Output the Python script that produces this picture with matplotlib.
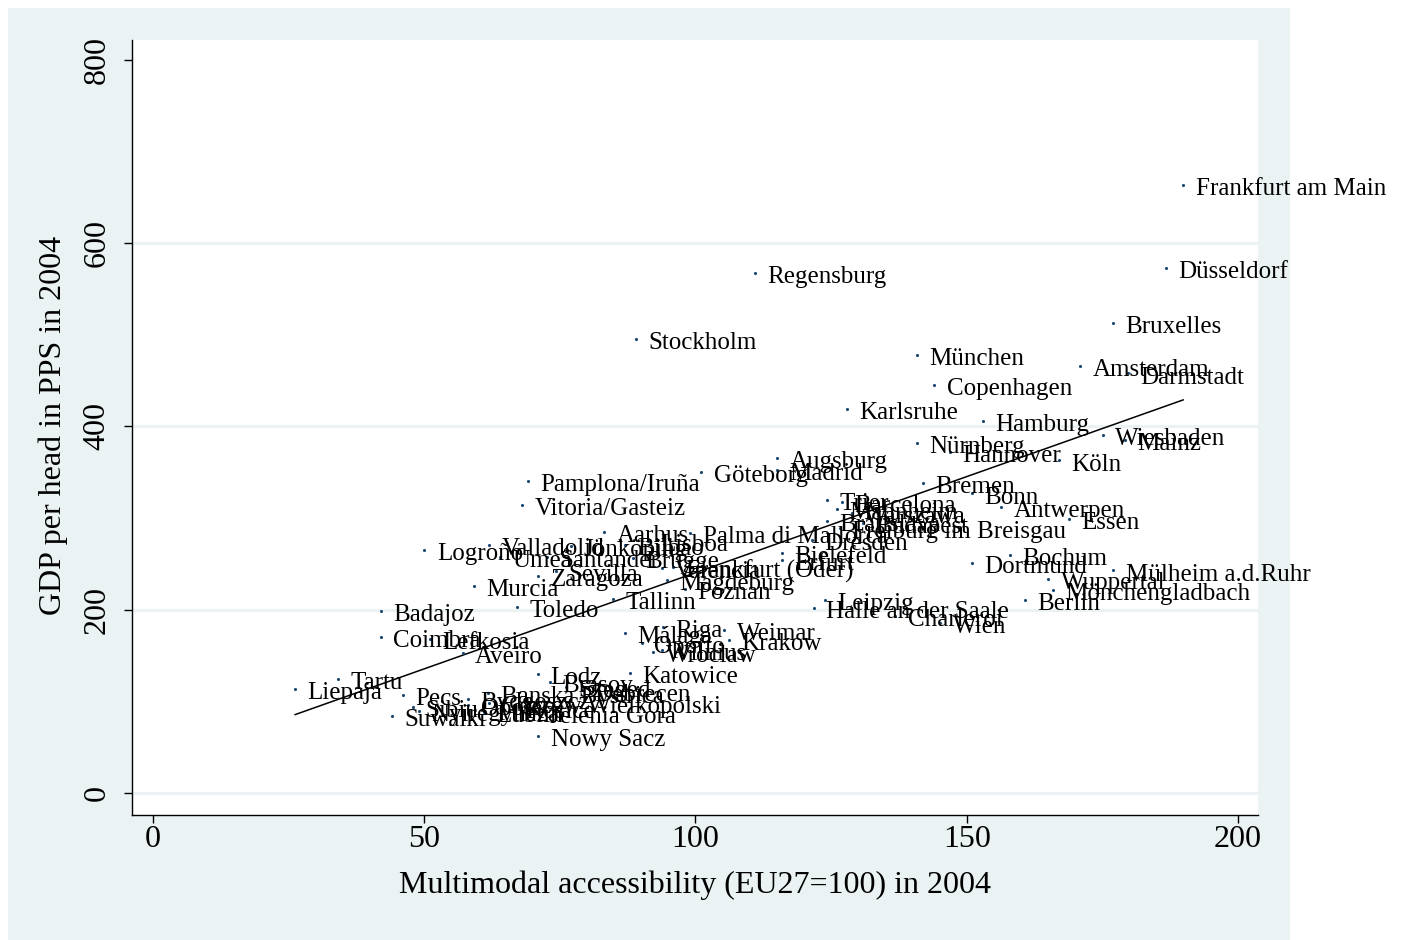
import matplotlib
matplotlib.use('Agg')
import matplotlib.pyplot as plt
from matplotlib.patches import Rectangle
import numpy as np

plt.rcParams['font.family'] = ['Liberation Serif', 'DejaVu Serif']

# ---- data ----
cities = [
    "Frankfurt am Main", "Düsseldorf", "Bruxelles", "Amsterdam", "Darmstadt",
    "Regensburg", "Stockholm", "München", "Copenhagen", "Karlsruhe",
    "Hamburg", "Nürnberg", "Hannover", "Wiesbaden", "Mainz", "Köln",
    "Augsburg", "Madrid", "Göteborg", "Pamplona/Iruña", "Vitoria/Gasteiz",
    "Bremen", "Bonn", "Antwerpen", "Essen", "Trier", "Barcelona",
    "Mannheim", "Warszawa", "Bratislava", "Budapest", "Freiburg im Breisgau",
    "Dresden", "Palma di Mallorca", "Aarhus", "Bielefeld", "Erfurt",
    "Valencia", "Frankfurt (Oder)", "Brugge", "Lisboa", "Bilbao",
    "Jönköping", "Santander", "Umeå", "Valladolid", "Logroño", "Sevilla",
    "Zaragoza", "Murcia", "Toledo", "Tallinn", "Magdeburg", "Poznan",
    "Leipzig", "Halle an der Saale", "Charleroi", "Wien", "Dortmund",
    "Bochum", "Mülheim a.d.Ruhr", "Wuppertal", "Mönchengladbach", "Berlin",
    "Badajoz", "Coimbra", "Lefkosia", "Aveiro", "Málaga", "Riga", "Oporto",
    "Wroclaw", "Vilnius", "Weimar", "Krakow", "Katowice", "Lodz", "Brasov",
    "Szeged", "Debrecen", "Kosice", "Gorzow Wielkopolski", "Jelenia Gora",
    "Nyiregyhaza", "Suwalki", "Sibiu", "Banska Bystrica", "Bydgoszcz",
    "Opole", "Lublin", "Nowy Sacz", "Liepaja", "Tartu", "Pecs",
]
accessibility = [
    189.9, 186.7, 177.0, 170.9, 179.7,
    111.0, 89.0, 140.8, 144.0, 127.9,
    153.0, 140.8, 146.9, 175.1, 179.2, 167.0,
    115.0, 115.0, 101.1, 69.1, 68.0,
    141.9, 151.0, 156.3, 168.8, 124.2, 127.0,
    126.1, 128.8, 124.2, 130.9, 126.6,
    121.5, 99.0, 83.1, 115.9, 115.9,
    93.8, 95.9, 88.5, 91.2, 87.0,
    77.0, 72.6, 64.0, 61.9, 50.0, 74.3,
    71.0, 59.2, 67.1, 84.8, 94.7, 98.1,
    123.9, 121.8, 136.8, 145.1, 151.0,
    158.0, 177.0, 165.0, 165.9, 160.7,
    42.0, 42.0, 51.1, 57.1, 87.0, 94.0, 90.1,
    92.2, 93.8, 105.3, 106.2, 87.9, 71.0, 73.2,
    76.2, 79.1, 66.4, 61.9, 70.8,
    49.0, 44.0, 47.9, 61.8, 58.1,
    58.1, 61.0, 71.0, 26.2, 34.1, 46.1,
]
gdp = [
    663.6, 573.0, 513.0, 466.0, 458.0,
    567.5, 495.5, 478.0, 445.0, 419.0,
    406.0, 382.0, 372.0, 391.0, 385.0, 363.0,
    366.0, 352.5, 350.5, 340.5, 314.0,
    338.0, 327.0, 312.0, 299.0, 319.8, 317.6,
    310.0, 305.6, 296.9, 294.7, 289.0,
    276.0, 283.8, 285.0, 262.0, 254.0,
    245.6, 246.7, 257.0, 275.0, 270.7,
    269.7, 257.6, 258.0, 270.7, 265.0, 242.6,
    236.8, 226.0, 203.0, 211.7, 232.5, 222.6,
    210.6, 202.0, 193.0, 185.6, 251.0,
    260.0, 243.0, 233.5, 221.6, 210.6,
    198.6, 170.0, 168.0, 153.0, 174.6, 181.0, 163.7,
    154.0, 156.0, 178.0, 167.0, 131.0, 130.0, 121.0,
    116.0, 112.0, 93.0, 98.0, 88.0,
    89.5, 84.0, 94.0, 109.0, 102.6,
    96.0, 88.4, 62.0, 113.5, 124.4, 107.0,
]
# fitted line: gdp = intercept + slope * accessibility
fit_intercept = 30.6
fit_slope = 2.098

x_ticks = [0, 50, 100, 150, 200]
y_ticks = [0, 200, 400, 600, 800]
y_grid = [0, 200, 400, 600]

# ---- figure ----
W, H = 1407, 940
fig = plt.figure(figsize=(W / 100, H / 100), dpi=100)
fig.patch.set_facecolor('white')
bg = Rectangle((8 / W, 0), (1290 - 8) / W, (H - 8) / H,
               transform=fig.transFigure, facecolor='#eaf2f3',
               edgecolor='none', zorder=-10)
fig.add_artist(bg)

ax = fig.add_axes([132 / W, (H - 815) / H, (1258 - 132) / W, (815 - 40) / H])
ax.set_zorder(1)
ax.set_facecolor('white')
ax.set_xlim(-3.87, 203.7)
ax.set_ylim(-24.0, 821.8)

for g in y_grid:
    ax.axhline(g, color='#eaf2f3', lw=2.2, zorder=0)

x = np.array(accessibility)
y = np.array(gdp)
ax.scatter(x, y, s=5, color='#1a476f', zorder=3, linewidths=0)

xs = np.array([x.min(), x.max()])
ax.plot(xs, fit_intercept + fit_slope * xs, color='black', lw=1.1, zorder=2)

for name, xi, yi in zip(cities, accessibility, gdp):
    ax.annotate(name, (xi, yi), xytext=(9, -3), textcoords='offset points',
                ha='left', va='center', fontsize=18, color='black',
                annotation_clip=False, zorder=4)

for s in ['top', 'right']:
    ax.spines[s].set_visible(False)
for s in ['left', 'bottom']:
    ax.spines[s].set_linewidth(1.0)
    ax.spines[s].set_color('black')

ax.set_xticks(x_ticks)
ax.set_xticklabels([str(t) for t in x_ticks])
ax.set_yticks(y_ticks)
ax.set_yticklabels([str(t) for t in y_ticks], rotation=90, va='center')
ax.tick_params(axis='both', direction='out', length=5.5, width=1.0,
               labelsize=23)
ax.tick_params(axis='x', pad=1.5)
ax.tick_params(axis='y', pad=9)

ax.text(0.5, -0.0903, "Multimodal accessibility (EU27=100) in 2004",
        transform=ax.transAxes, ha='center', va='center', fontsize=23)
ax.text(-0.0700, 0.503, "GDP per head in PPS in 2004", rotation=90,
        transform=ax.transAxes, ha='center', va='center', fontsize=23)

fig.savefig('out.png', dpi=100)
